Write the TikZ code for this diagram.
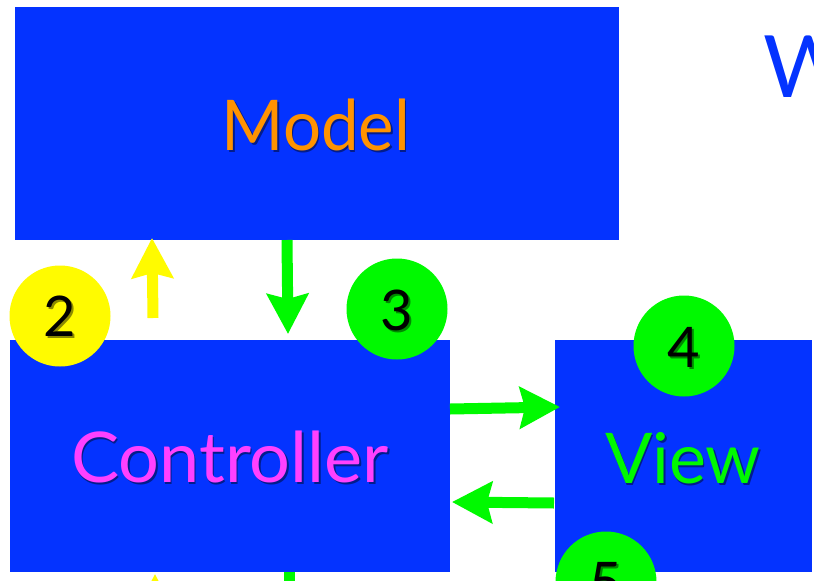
\documentclass[tikz,border=0pt]{standalone}
\usepackage{fontspec}
\setmainfont{Lato}
\usetikzlibrary{arrows.meta}
\definecolor{kblue}{HTML}{0433FF}
\definecolor{korange}{HTML}{FF9300}
\definecolor{kmagenta}{HTML}{FF40FF}
\definecolor{kgreen}{HTML}{00F900}
\definecolor{kyellow}{HTML}{FFFB00}
\newcommand\shadowed[3]{\makebox[0pt][l]{\kern1.5pt\raisebox{-2pt}{\color{#1}#3}}{\color{#2}#3}}
\tikzset{
  box/.style={fill=kblue, inner sep=0pt, outer sep=0pt},
  badge/.style={circle, inner sep=0pt, outer sep=0pt, minimum size=101pt},
  biglabel/.style={anchor=base, inner sep=0pt, font=\fontsize{70}{80}\selectfont},
  numlabel/.style={anchor=base, inner sep=0pt, font=\fontsize{56}{64}\selectfont},
  fat/.style={line width=11pt, -{Stealth[length=40pt, width=41pt, inset=5pt]}},
}
\begin{document}
\begin{tikzpicture}[x=1pt,y=-1pt]
\useasboundingbox (0,0) rectangle (814,581);
\clip (0,0) rectangle (814,581);
\fill[white] (0,0) rectangle (814,581);
% boxes
\node[box, minimum width=604pt, minimum height=233pt] (model) at (317,123.5) {};
\node[box, minimum width=440pt, minimum height=232pt] (controller) at (230,456) {};
\node[box, minimum width=257pt, minimum height=232pt] (view) at (683.5,456) {};
% labels
\node[biglabel] (modeltxt) at (316,150) {\scalebox{0.96}[1]{\shadowed{kblue!55!black}{korange}{Model}}};
\node[biglabel] (controllertxt) at (230,482) {\scalebox{1.03}[1]{\shadowed{kblue!55!black}{kmagenta}{Controller}}};
\node[biglabel] (viewtxt) at (683,483) {\shadowed{kblue!55!black}{kgreen}{View}};
\node[anchor=base west, inner sep=0pt, font=\fontsize{86}{96}\selectfont, text=kblue] (wtxt) at (763,97) {W};
% arrow end points
\coordinate (ya1) at (153,318); \coordinate (ya2) at (152,238);
\coordinate (gd1) at (287,240); \coordinate (gd2) at (288,334);
\coordinate (gr1) at (450,409); \coordinate (gr2) at (560,407);
\coordinate (gl1) at (554,503); \coordinate (gl2) at (452,502);
\coordinate (yb1) at (155,680); \coordinate (yb2) at (155,574);
\coordinate (gb1) at (289,572); \coordinate (gb2) at (289,680);
\draw[fat, kyellow] (ya1) -- (ya2);
\draw[fat, kgreen] (gd1) -- (gd2);
\draw[fat, kgreen] (gr1) -- (gr2);
\draw[fat, kgreen] (gl1) -- (gl2);
\draw[fat, kyellow] (yb1) -- (yb2);
\draw[fat, kgreen] (gb1) -- (gb2);
% badges
\node[badge, fill=kyellow] (c2) at (60,316) {};
\node[badge, fill=kgreen] (c3) at (397,309) {};
\node[badge, fill=kgreen] (c4) at (684,346) {};
\node[badge, fill=kgreen] (c5) at (606,582) {};
\node[numlabel] (n2) at (60,336) {\shadowed{kyellow!55!black}{black}{2}};
\node[numlabel] (n3) at (397,330) {\shadowed{kgreen!55!black}{black}{3}};
\node[numlabel] (n4) at (684,367) {\shadowed{kgreen!55!black}{black}{4}};
\node[numlabel] (n5) at (606,602) {\shadowed{kgreen!55!black}{black}{5}};
\end{tikzpicture}
\end{document}
